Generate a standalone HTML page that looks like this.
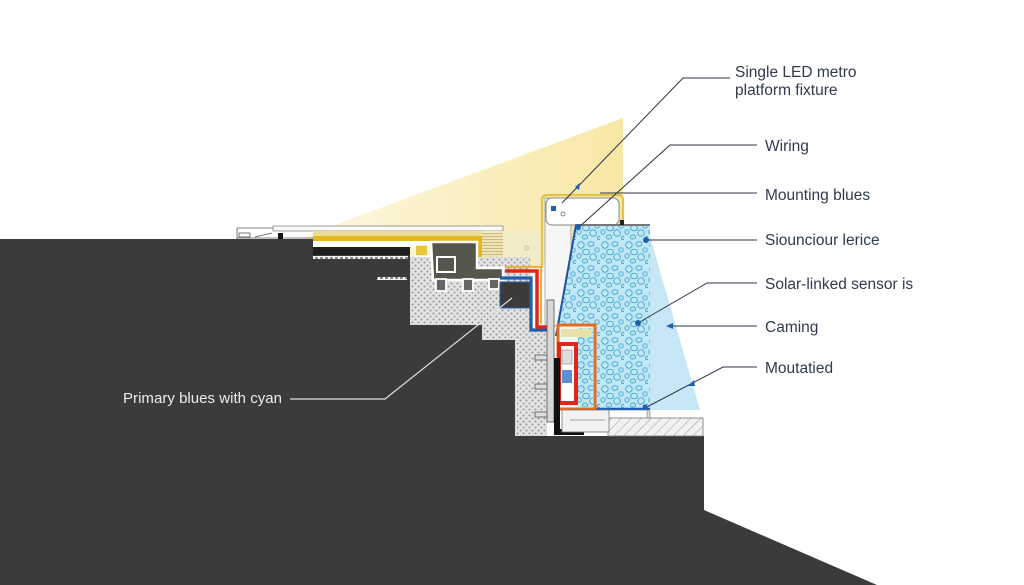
<!DOCTYPE html>
<html><head><meta charset="utf-8"><style>
html,body{margin:0;padding:0;background:#fff;}
svg{display:block;}
text{font-family:"Liberation Sans",sans-serif;}
</style></head><body>
<svg width="1024" height="585" viewBox="0 0 1024 585" xmlns="http://www.w3.org/2000/svg">
<defs>
<linearGradient id="cone" x1="0" y1="0" x2="1" y2="0">
<stop offset="0" stop-color="#fdf7e0"/>
<stop offset="1" stop-color="#f8e8a6"/>
</linearGradient>
<pattern id="conc" width="6" height="6" patternUnits="userSpaceOnUse">
<rect width="6" height="6" fill="#e3e3e3"/>
<circle cx="1.5" cy="1.5" r="1" fill="#949494"/>
<circle cx="4.5" cy="4.5" r="1" fill="#949494"/>
</pattern>
<pattern id="diag" width="7" height="7" patternUnits="userSpaceOnUse" patternTransform="rotate(45)">
<rect width="7" height="7" fill="#f2f2f2"/>
<line x1="0" y1="0" x2="0" y2="7" stroke="#9a9a9a" stroke-width="1"/>
</pattern>
<pattern id="bub" width="24" height="24" patternUnits="userSpaceOnUse">
<rect width="24" height="24" fill="#bfe8f4"/>
<g fill="none" stroke="#4aa8d3" stroke-width="1">
<circle cx="5" cy="5" r="3.2"/>
<ellipse cx="15" cy="4" rx="3" ry="2.2"/>
<circle cx="21" cy="10" r="2.2"/>
<ellipse cx="10" cy="12" rx="3.4" ry="2.8"/>
<circle cx="3" cy="16" r="2.2"/>
<circle cx="17" cy="17" r="3.3"/>
<ellipse cx="9" cy="21" rx="2.6" ry="2"/>
<circle cx="23" cy="22" r="1.6"/>
</g>
</pattern>
<pattern id="dash" width="5" height="4" patternUnits="userSpaceOnUse">
<rect width="5" height="4" fill="#f4f4f4"/>
<rect x="0" y="1" width="3" height="2" fill="#8a8a8a"/>
</pattern>
<pattern id="rib" width="4" height="3" patternUnits="userSpaceOnUse">
<rect width="4" height="3" fill="#efe3b2"/>
<rect y="2" width="4" height="1" fill="#c9bb86"/>
</pattern>
</defs>

<!-- yellow light cone -->
<polygon points="305,236 623,118 623,262 313,262" fill="url(#cone)"/>
<!-- blue beam -->
<polygon points="650,236 700,410 650,410" fill="#c6e8f6"/>

<!-- dark ground -->
<polygon points="0,239 410,239 410,325 482,325 482,340 515,340 515,436 704,436 704,510 877,585 0,585" fill="#3b3b3b"/>

<!-- left railing -->
<g stroke="#555" stroke-width="0.8" fill="none">
<line x1="237" y1="228" x2="237" y2="240"/>
<line x1="237" y1="228" x2="273" y2="228"/>
<rect x="239" y="233" width="11" height="4" fill="#fff"/>
<line x1="255" y1="237" x2="272" y2="233"/>
<line x1="237" y1="238" x2="313" y2="238"/>
</g>
<rect x="278" y="233" width="5" height="6" fill="#111"/>

<!-- top slab -->
<rect x="273" y="226" width="230" height="5" fill="#fafafa" stroke="#777" stroke-width="0.7"/>
<rect x="313" y="231" width="227" height="5" fill="#ecdc9c"/>
<rect x="313" y="236" width="169" height="5" fill="#e3b91f"/>
<rect x="477" y="236" width="5" height="32" fill="#e3b91f"/>
<rect x="477" y="264" width="28" height="4" fill="#e3b91f"/>

<!-- beige area + ribs -->
<rect x="482" y="231" width="62" height="35" fill="#f3ebc6"/>
<rect x="482" y="233" width="21" height="30" fill="url(#rib)"/>
<circle cx="527" cy="248" r="2" fill="none" stroke="#bbb" stroke-width="0.8"/>

<!-- concrete -->
<polygon points="410,257 530,257 530,330 547,330 547,436 515,436 515,340 482,340 482,325 410,325" fill="url(#conc)"/>

<!-- bands -->
<rect x="313" y="241" width="120" height="6" fill="#fff"/>
<rect x="313" y="247" width="97" height="8" fill="#1e1e1e"/>
<rect x="313" y="256" width="95" height="3" fill="url(#dash)"/>
<rect x="377" y="277" width="30" height="3" fill="url(#dash)"/>

<!-- olive block & comb -->
<path d="M431,242 H477 V268 H503 V280 H433 Z" fill="#55564c" stroke="#fff" stroke-width="2.5"/>
<rect x="415" y="245" width="13" height="11" fill="#e8c73a" stroke="#fff" stroke-width="1.5"/>
<rect x="437" y="257" width="18" height="15" fill="#55564c" stroke="#fff" stroke-width="2"/>
<g fill="#666" stroke="#fff" stroke-width="1.8">
<rect x="436" y="279" width="10" height="12"/>
<rect x="463" y="279" width="10" height="12"/>
<rect x="489" y="279" width="10" height="10"/>
</g>
<rect x="500" y="282" width="30" height="26" fill="#3b3b3b" stroke="#1f5fae" stroke-width="1"/>

<!-- fixture -->
<rect x="545" y="198" width="26" height="128" fill="#f6f6f6" stroke="#999" stroke-width="0.8"/>
<rect x="546" y="198" width="73" height="27" rx="6" fill="#fff" stroke="#888" stroke-width="1"/>
<path d="M542,268 V200 Q542,195 547,195 H618 Q623,195 623,200 V225" fill="none" stroke="#e2c445" stroke-width="2.2"/>
<rect x="551" y="206" width="5" height="5" fill="#1f5fae"/>
<circle cx="563" cy="214" r="2" fill="none" stroke="#888"/>

<!-- cyan block -->
<polygon points="576,225 650,225 650,410 557,410 557,332" fill="url(#bub)"/>
<line x1="576" y1="225" x2="556" y2="336" stroke="#1f4f9e" stroke-width="2"/>
<line x1="575" y1="225" x2="650" y2="225" stroke="#777" stroke-width="2"/>
<rect x="620" y="220" width="4" height="5" fill="#222"/>
<line x1="595" y1="409" x2="650" y2="409" stroke="#1f5fae" stroke-width="2.5"/>

<!-- wires -->
<path d="M500,278 H531 V330 H549" fill="none" stroke="#1f5fae" stroke-width="3.2"/>
<path d="M505,271 H537 V327 H552" fill="none" stroke="#e0251b" stroke-width="3.5"/>
<path d="M505,267 H541 V324" fill="none" stroke="#e9b43c" stroke-width="2.2"/>
<rect x="558" y="325" width="37" height="84" fill="#f4f4f4" stroke="#e86a1c" stroke-width="3"/>
<rect x="578" y="328" width="15" height="79" fill="url(#bub)"/>
<rect x="561" y="329" width="31" height="8" fill="#e8e2a8"/>
<rect x="559" y="344" width="17" height="59" fill="#fff" stroke="#e0251b" stroke-width="4"/>
<rect x="562" y="370" width="10" height="13" fill="#5b8fd0"/>
<rect x="562" y="350" width="10" height="14" fill="#ddd" stroke="#888" stroke-width="0.6"/>

<!-- pole & pegs -->
<rect x="535" y="355" width="14" height="5" fill="#ddd" stroke="#555" stroke-width="0.8"/>
<rect x="535" y="384" width="14" height="5" fill="#ddd" stroke="#555" stroke-width="0.8"/>
<rect x="535" y="412" width="14" height="5" fill="#ddd" stroke="#555" stroke-width="0.8"/>
<rect x="547" y="300" width="7" height="122" fill="#d8d8d8" stroke="#555" stroke-width="0.8"/>
<rect x="554" y="358" width="6" height="76" fill="#111"/>
<rect x="554" y="429" width="30" height="6" fill="#111"/>

<!-- base -->
<rect x="608" y="418" width="95" height="18" fill="url(#diag)" stroke="#777" stroke-width="0.8"/>
<rect x="562" y="410" width="47" height="22" fill="#f2f2f2" stroke="#777" stroke-width="0.8"/>
<line x1="570" y1="420" x2="605" y2="420" stroke="#888" stroke-width="0.8"/>
<rect x="647" y="410" width="3" height="8" fill="#ddd" stroke="#777" stroke-width="0.6"/>

<!-- leader lines right -->
<g stroke="#2c3447" stroke-width="1" fill="none">
<polyline points="730,78 683,78 562,203"/>
<polyline points="757,145 670,145 578,228"/>
<line x1="600" y1="193" x2="757" y2="193"/>
<line x1="647" y1="240" x2="757" y2="240"/>
<polyline points="757,283 707,283 638,323"/>
<line x1="668" y1="326" x2="757" y2="326"/>
<polyline points="757,367 723,367 645,408"/>
</g>
<g fill="#1f5fae">
<polygon points="575,187 580,183 579,190"/>
<circle cx="578" cy="227" r="3"/>
<circle cx="646" cy="240" r="3"/>
<circle cx="638" cy="323" r="3"/>
<polygon points="666,326 673,323 673,329"/>
<polygon points="688,386 694,380 695,386"/>
<circle cx="645" cy="407" r="2.5"/>
</g>

<!-- left leader -->
<polyline points="290,399 385,399 512,298" fill="none" stroke="#e0e0e0" stroke-width="1.2"/>

<!-- labels -->
<g fill="#2f3a4f" font-size="15.5">
<text x="735" y="77">Single LED metro</text>
<text x="735" y="95">platform fixture</text>
<text x="765" y="151">Wiring</text>
<text x="765" y="200">Mounting blues</text>
<text x="765" y="245">Siounciour lerice</text>
<text x="765" y="289">Solar-linked sensor is</text>
<text x="765" y="332">Caming</text>
<text x="765" y="373">Moutatied</text>
</g>
<text x="123" y="403" fill="#ececec" font-size="15" textLength="159">Primary blues with cyan</text>
</svg>
</body></html>
